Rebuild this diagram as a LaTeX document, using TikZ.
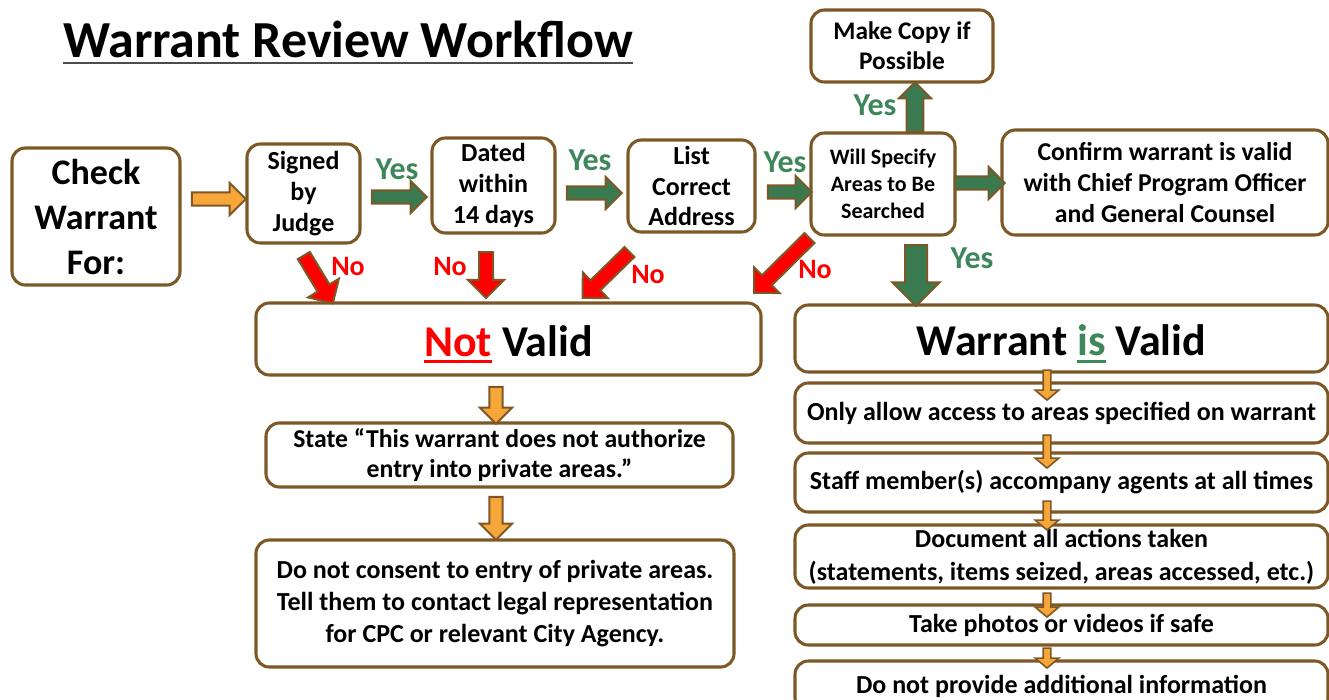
\documentclass[tikz,border=0pt]{standalone}
\usepackage{fontspec}
\setmainfont{Carlito}
\usetikzlibrary{calc}
\usetikzlibrary{positioning}
\usetikzlibrary{shapes.arrows}
\definecolor{wbrown}{RGB}{124,88,38}
\definecolor{worange}{RGB}{247,166,58}
\definecolor{wgreen}{RGB}{58,122,80}
\definecolor{yesgreen}{RGB}{62,135,90}
\definecolor{wred}{RGB}{255,0,0}
\newcommand{\wfont}[2]{\bfseries\fontsize{#1}{#2}\selectfont}
\newcommand{\ulword}[2]{{\color{#1}\setbox0\hbox{#2}\rlap{\rule[-5.5pt]{\wd0}{2.2pt}}\box0}}
\tikzset{
box/.style={
  draw=wbrown,line width=2.3pt,rounded corners=10pt,
  fill=white,align=center,inner sep=1pt},
bigbox/.style={box,font=\wfont{33}{40},text height=31pt,text depth=5.5pt},
blk/.style={
  single arrow,draw=wbrown,line width=1.5pt,inner xsep=0pt,
  minimum width=0pt,single arrow head indent=0pt},
orarr/.style={blk,fill=worange,inner ysep=4.2pt,single arrow head extend=7.1pt},
grarr/.style={blk,fill=wgreen,inner ysep=4.2pt,single arrow head extend=7.1pt},
upgarr/.style={blk,fill=wgreen,inner ysep=5.6pt,single arrow head extend=5.65pt},
dgarr/.style={blk,fill=wgreen,inner ysep=7.5pt,single arrow head extend=9.4pt},
rdarr/.style={blk,fill=wred,inner ysep=4.5pt,single arrow head extend=8.25pt},
smarr/.style={blk,fill=worange,line width=1.2pt,inner ysep=2.25pt,
  single arrow head extend=6pt,single arrow tip angle=100},
blockarrow/.style={to path={
  let \p1=(\tikztostart),\p2=(\tikztotarget),
  \n1={veclen(\x2-\x1,\y2-\y1)} in
  (\p1) -- node[midway,sloped,allow upside down,minimum height=\n1,#1]{} (\p2)}},
yeslbl/.style={text=yesgreen,font=\wfont{24}{28},inner sep=0pt},
nolbl/.style={text=wred,font=\wfont{21}{25},inner sep=0pt}
}
\begin{document}
\begin{tikzpicture}[x=0.75pt,y=-0.75pt]
\useasboundingbox (0,0) rectangle (1329,700);
\clip (0,0) rectangle (1329,700);

\node[anchor=base,inner sep=0pt,font=\wfont{39}{44}](title) at (348,57){Warrant Review Workflow};
\draw[line width=2.2pt,black!70]($(title.base west)+(0,6)$) -- ($(title.base east)+(0,6)$);

% checks along the top
\node[box,minimum width=126pt,minimum height=102.75pt,font=\wfont{27}{33.75}](check) at (96,216.5){Check\\Warrant\\For:};
\node[box,minimum width=84.75pt,minimum height=74.25pt,font=\wfont{19.5}{23}](signed) at (303.5,193.5){Signed\\by\\Judge};
\node[box,minimum width=92.25pt,minimum height=71.25pt,font=\wfont{19.5}{23}](dated) at (493.5,185.5){Dated\\within\\14 days};
\node[box,minimum width=95.25pt,minimum height=69pt,font=\wfont{19.5}{23}](list) at (691.5,186){List\\Correct\\Address};
\node[box,minimum width=108pt,minimum height=76.5pt,font=\wfont{16.5}{20}](will) at (883,184){Will Specify\\Areas to Be\\Searched};
\node[box,minimum width=136.5pt,minimum height=54pt,font=\wfont{19}{22.5}](copy) at (902,46){Make Copy if\\Possible};
\node[box,minimum width=244.5pt,minimum height=78.75pt,font=\wfont{19.3}{23}](confirm) at (1165,182.5){Confirm warrant is valid\\with Chief Program Officer\\and General Counsel};

% not valid branch
\node[bigbox,minimum width=378.75pt,minimum height=54pt](notvalid) at (508.5,339){\ulword{wred}{Not} Valid};
\node[box,minimum width=350.25pt,minimum height=48pt,font=\wfont{19.3}{22.5}](state) at (499.5,455){State “This warrant does not authorize\\entry into private areas.”};
\node[box,minimum width=358.5pt,minimum height=95.25pt,font=\wfont{19.5}{24}](consent) at (495,603.5){Do not consent to entry of private areas.\\Tell them to contact legal representation\\for CPC or relevant City Agency.};

% valid branch
\node[bigbox,minimum width=399.75pt,minimum height=50.25pt](valid) at (1061.5,338.5){Warrant \ulword{yesgreen}{is} Valid};
\node[box,minimum width=399.75pt,minimum height=45pt,font=\wfont{19.5}{24}](only) at (1061.5,413){Only allow access to areas specified on warrant};
\node[box,minimum width=399.75pt,minimum height=44.25pt,font=\wfont{19.5}{24}](staff) at (1061.5,482.5){Staff member(s) accompany agents at all times};
\node[box,minimum width=399.75pt,minimum height=47.25pt,font=\wfont{19.5}{24.75}](docu) at (1061.5,556.5){Document all actions taken\\(statements, items seized, areas accessed, etc.)};
\node[box,minimum width=399.75pt,minimum height=30pt,font=\wfont{19.5}{24}](photos) at (1061.5,625){Take photos or videos if safe};
\node[box,minimum width=399.75pt,minimum height=37.5pt,font=\wfont{19.5}{24}](provide) at (1061.5,686){Do not provide additional information};

% block arrows
\path($(check.east)+(7,-17.5)$) to[blockarrow=orarr] ($(signed.west)+(-3,5.5)$);
\path($(signed.east)+(7,3.5)$) to[blockarrow=grarr] ($(dated.west)+(-7,11.5)$);
\path($(dated.east)+(7,7.5)$) to[blockarrow=grarr] ($(list.west)+(-8,7)$);
\path($(list.east)+(8,6)$) to[blockarrow=grarr] ($(will.west)+(-1,8)$);
\path($(will.east)+(-5,-1)$) to[blockarrow=grarr] ($(confirm.west)+(1,0.5)$);
\path($(will.north)+(32,5)$) to[blockarrow=upgarr] ($(copy.south)+(13,3)$);
\path($(will.south)+(33,3)$) to[blockarrow=dgarr] ($(valid.north)+(-145.5,-3)$);

\path($(signed.south)+(-1.5,8)$) to[blockarrow=rdarr] ($(notvalid.north)+(-177.5,-1)$);
\path($(dated.south)+(-7.5,14)$) to[blockarrow=rdarr] ($(notvalid.north)+(-22.5,-7)$);
\path($(list.south)+(-59.5,16)$) to[blockarrow=rdarr] ($(notvalid.north)+(76.5,-6)$);
\path($(will.south)+(-71,-1)$) to[blockarrow=rdarr] ($(notvalid.north east)+(-6,-11)$);

\path($(notvalid.south)+(-12.5,7)$) to[blockarrow=orarr] ($(state.north)+(-3.5,-1)$);
\path($(state.south)+(-3.5,5)$) to[blockarrow=orarr] ($(consent.north)+(1,-2)$);

\path($(valid.south)+(-14.5,-5)$) to[blockarrow=smarr] ($(only.north)+(-14.5,17)$);
\path($(only.south)+(-14.5,-11)$) to[blockarrow=smarr] ($(staff.north)+(-14.5,15)$);
\path($(staff.south)+(-14.5,-14)$) to[blockarrow=smarr] ($(docu.north)+(-14.5,5)$);
\path($(docu.south)+(-14.5,2)$) to[blockarrow=smarr] ($(photos.north)+(-14.5,12)$);
\path($(photos.south)+(-14.5,0)$) to[blockarrow=smarr] ($(provide.north)+(-14.5,7)$);

% answers
\node[yeslbl](yes1) at (397,169){Yes};
\node[yeslbl](yes2) at (590,160){Yes};
\node[yeslbl](yes3) at (785,162){Yes};
\node[yeslbl](yes4) at (875,105){Yes};
\node[yeslbl](yes5) at (972,258){Yes};
\node[nolbl](no1) at (348,267){No};
\node[nolbl](no2) at (450,267){No};
\node[nolbl](no3) at (648,275){No};
\node[nolbl](no4) at (815,270){No};

\end{tikzpicture}
\end{document}
